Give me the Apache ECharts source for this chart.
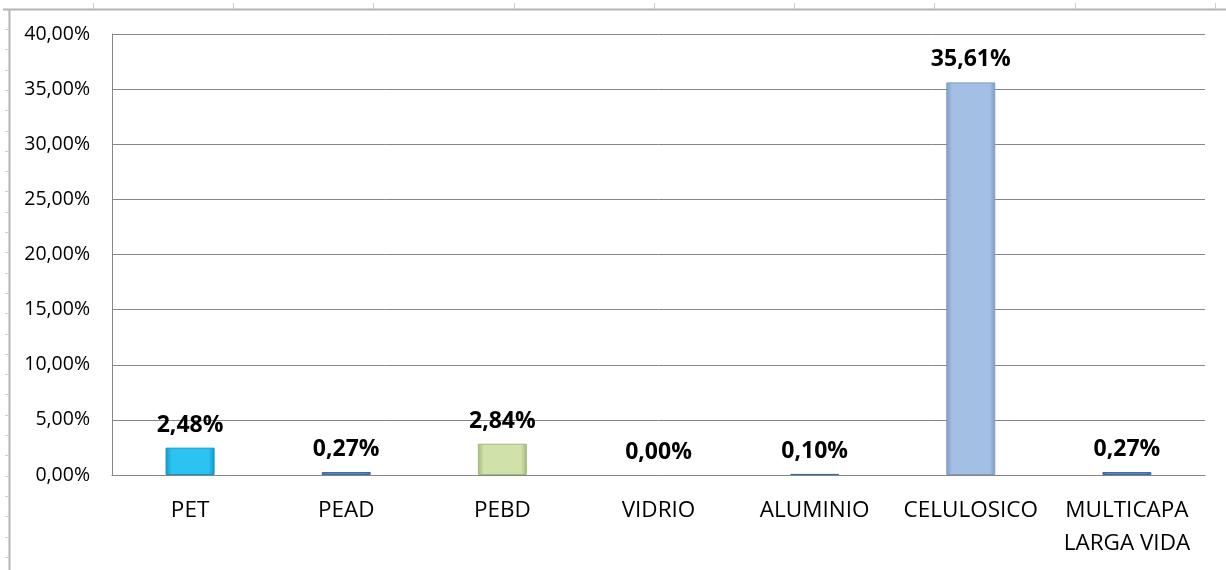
<!DOCTYPE html>
<html>
<head>
<meta charset="utf-8">
<script src="https://cdn.jsdelivr.net/npm/echarts@6/dist/echarts.min.js"></script>
<style>
  html, body { margin: 0; padding: 0; background: #fff; }
  #main { width: 1226px; height: 570px; }
</style>
</head>
<body>
<div id="main"></div>
<script>
// materiales y porcentajes
var categorias = ['PET', 'PEAD', 'PEBD', 'VIDRIO', 'ALUMINIO', 'CELULOSICO', 'MULTICAPA\nLARGA VIDA'];
var porcentajes = [2.48, 0.27, 2.84, 0.00, 0.10, 35.61, 0.27];
var ticksY = [0, 5, 10, 15, 20, 25, 30, 35, 40];

// colores de cada barra (centro, borde)
var colores = [
  ['#2cc3f2', '#0e95c8'],
  ['#5b8cc8', '#3b6aa3'],
  ['#d0e1aa', '#a3b97a'],
  ['#5b8cc8', '#3b6aa3'],
  ['#5b8cc8', '#3b6aa3'],
  ['#a3c0e4', '#7d9cc6'],
  ['#5b8cc8', '#3b6aa3']
];

function fmt(v) {
  return v.toFixed(2).replace('.', ',') + '%';
}

var fuente = '"Open Sans", "Noto Sans", sans-serif';

var datos = porcentajes.map(function (v, i) {
  return {
    value: v,
    itemStyle: {
      color: new echarts.graphic.LinearGradient(0, 0, 1, 0, [
        { offset: 0, color: colores[i][1] },
        { offset: 0.12, color: colores[i][0] },
        { offset: 0.88, color: colores[i][0] },
        { offset: 1, color: colores[i][1] }
      ]),
      borderColor: colores[i][1],
      borderWidth: v > 0 ? 1 : 0
    }
  };
});

// marco de la hoja de calculo (decorativo)
var decor = [
  { type: 'line', shape: { x1: 3, y1: 9.5, x2: 1226, y2: 9.5 }, style: { stroke: '#b4b4b4', lineWidth: 2 } },
  { type: 'line', shape: { x1: 9.5, y1: 9, x2: 9.5, y2: 570 }, style: { stroke: '#b4b4b4', lineWidth: 2 } }
];
[93, 233, 373, 514, 654, 794, 934, 1075, 1215].forEach(function (x) {
  decor.push({ type: 'line', shape: { x1: x + 0.5, y1: 3, x2: x + 0.5, y2: 9 }, style: { stroke: '#cfcfcf', lineWidth: 1 } });
});
for (var y = 29; y < 570; y += 20.3) {
  decor.push({ type: 'line', shape: { x1: 5, y1: Math.round(y) + 0.5, x2: 9, y2: Math.round(y) + 0.5 }, style: { stroke: '#cfcfcf', lineWidth: 1 } });
}

var myChart = echarts.init(document.getElementById('main'));
var option = {
  animation: false,
  backgroundColor: '#fff',
  graphic: decor,
  grid: {
    left: 112,
    right: 21,
    top: 34,
    bottom: 95
  },
  xAxis: {
    type: 'category',
    data: categorias,
    axisLine: { lineStyle: { color: '#868686', width: 1 } },
    axisTick: { show: false },
    axisLabel: {
      color: '#000',
      fontFamily: fuente,
      fontSize: 22.5,
      lineHeight: 33,
      margin: 19,
      interval: 0
    }
  },
  yAxis: {
    type: 'value',
    min: 0,
    max: 40,
    interval: 5,
    axisLine: { show: true, lineStyle: { color: '#868686', width: 1 } },
    axisTick: { show: false },
    splitLine: { lineStyle: { color: '#868686', width: 1 } },
    axisLabel: {
      color: '#000',
      fontFamily: fuente,
      fontSize: 19.5,
      margin: 22,
      formatter: function (v) { return fmt(v); }
    }
  },
  series: [
    {
      type: 'bar',
      data: datos,
      barWidth: 49,
      label: {
        show: true,
        position: 'top',
        distance: 11,
        color: '#000',
        fontFamily: fuente,
        fontWeight: 'bold',
        fontSize: 23,
        formatter: function (p) { return fmt(p.value); }
      }
    }
  ]
};
myChart.setOption(option);
</script>
</body>
</html>
